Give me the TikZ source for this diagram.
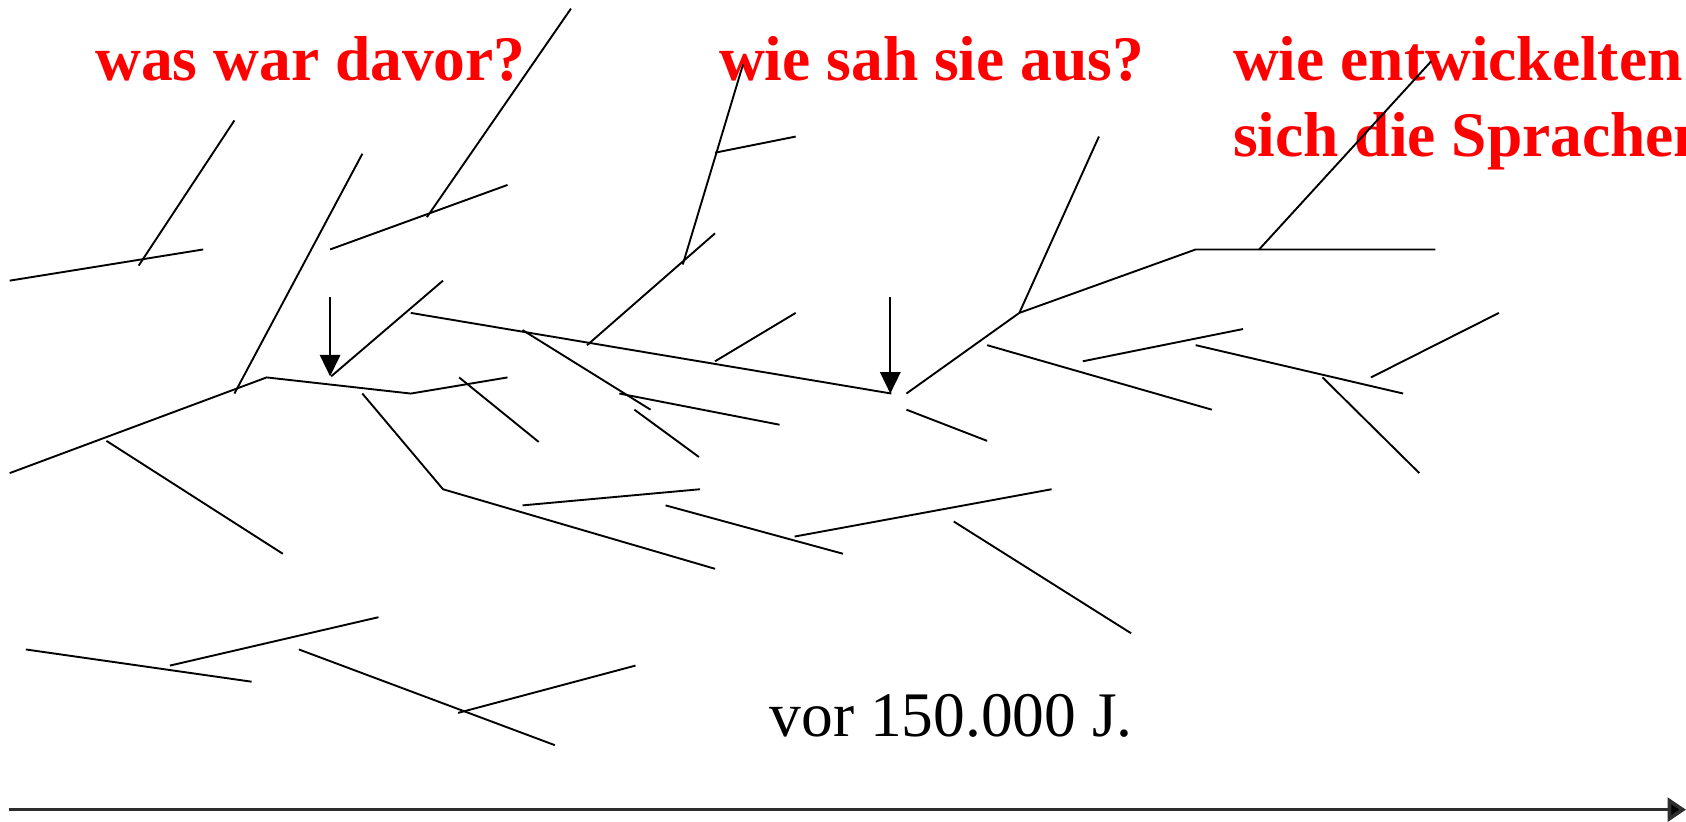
\documentclass[tikz,border=0pt]{standalone}
\usepackage{fontspec}
\setmainfont{Liberation Serif}
\usetikzlibrary{arrows.meta}
\definecolor{EvoRed}{RGB}{255,0,0}
\definecolor{EvoInk}{RGB}{0,0,0}
\definecolor{EvoAxis}{RGB}{45,45,45}
\tikzset{
  evo/twig/.style={draw=EvoInk, line width=0.5pt},
  evo/arrow/.style={-{Triangle[length=2mm,width=1.9mm]}, draw=EvoInk, line width=0.5pt},
  evo/axis/.style={-{Triangle[length=1.7mm,width=2.2mm,fill=EvoInk]}, draw=EvoAxis, line width=0.95pt},
  evo/question/.style={
    anchor=base west,
    inner sep=0pt,
    text=EvoRed,
    font=\fontsize{16.8}{20}\selectfont\bfseries
  },
  evo/era/.style={
    anchor=base west,
    inner sep=0pt,
    text=EvoInk,
    font=\fontsize{16.8}{20}\selectfont
  }
}
\begin{document}
\begin{tikzpicture}[x=0.1mm,y=-0.1mm]
  \useasboundingbox (0,0) rectangle (1568,764);
  % questions and date
  \node[evo/question] (qbefore) at (88,75) {was war davor?};
  \node[evo/question] (qlook) at (668,75) {wie sah sie aus?};
  \node[evo/question] (qlang) at (1146,75) {wie entwickelten};
  \node[evo/question] (qlangb) at (1146,146) {sich die Sprachen};
  \node[evo/era] (era) at (715,685) {vor 150.000 J.};
  % left tree
  \draw[evo/twig] (9,261) -- (189,232);
  \draw[evo/twig] (129,247) -- (218,112);
  \draw[evo/twig] (218,366) -- (337,143);
  \draw[evo/twig] (307,232) -- (472,172);
  \draw[evo/twig] (397,202) -- (531,8);
  \draw[evo/twig] (308,350) -- (412,261);
  \draw[evo/twig] (9,440) -- (248,351) -- (382,366) -- (472,351);
  \draw[evo/twig] (99,410) -- (263,515);
  \draw[evo/twig] (427,351) -- (501,411);
  \draw[evo/twig] (337,366) -- (412,455) -- (665,529);
  \draw[evo/twig] (486,470) -- (651,455);
  \draw[evo/twig] (619,470) -- (784,515);
  \draw[evo/twig] (739,499) -- (978,455);
  \draw[evo/twig] (887,485) -- (1052,589);
  % bottom twigs
  \draw[evo/twig] (24,604) -- (234,634);
  \draw[evo/twig] (158,619) -- (352,574);
  \draw[evo/twig] (278,604) -- (516,693);
  \draw[evo/twig] (426,663) -- (591,619);
  % middle tree
  \draw[evo/twig] (665,142) -- (740,127);
  \draw[evo/twig] (635,246) -- (691,60);
  \draw[evo/twig] (546,321) -- (665,217);
  \draw[evo/twig] (382,291) -- (829,366);
  \draw[evo/twig] (665,336) -- (740,291);
  \draw[evo/twig] (486,307) -- (605,381);
  \draw[evo/twig] (576,366) -- (725,395);
  \draw[evo/twig] (590,381) -- (650,425);
  % right tree
  \draw[evo/twig] (843,366) -- (948,291) -- (1022,127);
  \draw[evo/twig] (948,291) -- (1112,232) -- (1335,232);
  \draw[evo/twig] (1171,232) -- (1331,57);
  \draw[evo/twig] (918,321) -- (1127,381);
  \draw[evo/twig] (1007,336) -- (1156,306);
  \draw[evo/twig] (1112,321) -- (1305,366);
  \draw[evo/twig] (1230,351) -- (1320,440);
  \draw[evo/twig] (1275,351) -- (1394,291);
  \draw[evo/twig] (843,381) -- (918,410);
  % markers
  \coordinate (forkAtop) at (307,276);
  \coordinate (forkA) at (307,350);
  \coordinate (forkBtop) at (828,276);
  \coordinate (forkB) at (828,366);
  \draw[evo/arrow] (forkAtop) -- (forkA);
  \draw[evo/arrow] (forkBtop) -- (forkB);
  % time axis
  \coordinate (tstart) at (8,753);
  \coordinate (tend) at (1568,753);
  \draw[evo/axis] (tstart) -- (tend);
\end{tikzpicture}
\end{document}
